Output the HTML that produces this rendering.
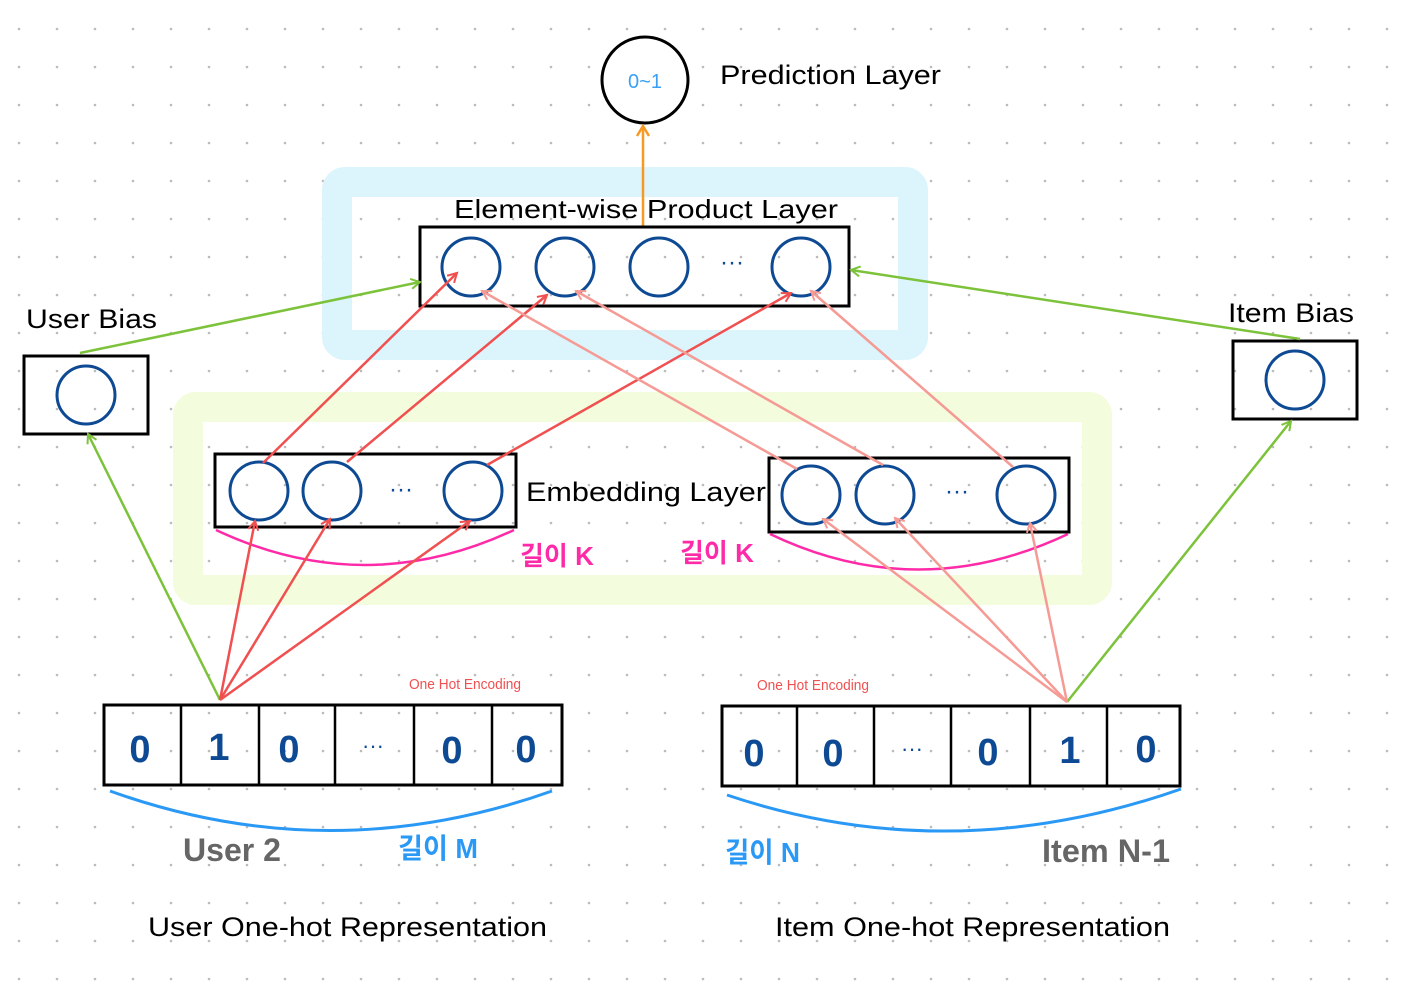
<!DOCTYPE html>
<html><head><meta charset="utf-8"><style>
html,body{margin:0;padding:0;background:#fff;}
svg{display:block;}
text{font-family:"Liberation Sans","Noto Sans CJK KR",sans-serif;}
</style></head><body>
<svg width="1417" height="1000" viewBox="0 0 1417 1000" xmlns="http://www.w3.org/2000/svg">
<defs>
<pattern id="dots" x="0" y="10" width="38" height="38" patternUnits="userSpaceOnUse">
<circle cx="19" cy="19" r="1.3" fill="#bbb"/>
</pattern>
<marker id="arR" markerWidth="12" markerHeight="12" refX="10" refY="6" orient="auto" markerUnits="userSpaceOnUse">
<path d="M1,1 L10,6 L1,11" fill="none" stroke="#f05050" stroke-width="2"/>
</marker>
<marker id="arP" markerWidth="12" markerHeight="12" refX="10" refY="6" orient="auto" markerUnits="userSpaceOnUse">
<path d="M1,1 L10,6 L1,11" fill="none" stroke="#f59a94" stroke-width="2"/>
</marker>
<marker id="arG" markerWidth="12" markerHeight="12" refX="10" refY="6" orient="auto" markerUnits="userSpaceOnUse">
<path d="M1,1 L10,6 L1,11" fill="none" stroke="#7cc23a" stroke-width="2"/>
</marker>
<marker id="arO" markerWidth="14" markerHeight="14" refX="11" refY="7" orient="auto" markerUnits="userSpaceOnUse">
<path d="M1,1 L11,7 L1,13" fill="none" stroke="#f59a24" stroke-width="2.5"/>
</marker>
</defs>
<rect width="1417" height="1000" fill="url(#dots)"/>

<rect x="337" y="182" width="576" height="163" rx="8" fill="none" stroke="#dcf5fc" stroke-width="30"/>
<rect x="188" y="407" width="909" height="183" rx="8" fill="none" stroke="#f3fcdc" stroke-width="30"/>

<circle cx="645" cy="80" r="43" fill="#fff" stroke="#000" stroke-width="3"/>
<text x="645" y="88" font-size="20" fill="#3aa0f5" text-anchor="middle" font-family="Liberation Mono,monospace">0~1</text>
<text x="720" y="84" font-size="27" fill="#000" textLength="221" lengthAdjust="spacingAndGlyphs">Prediction Layer</text>
<line x1="643" y1="226" x2="643" y2="126" stroke="#f59a24" stroke-width="2.5" marker-end="url(#arO)"/>

<text x="454" y="218" font-size="26" fill="#000" textLength="384" lengthAdjust="spacingAndGlyphs">Element-wise Product Layer</text>
<rect x="420" y="227" width="429" height="79" fill="none" stroke="#000" stroke-width="3"/>
<g fill="none" stroke="#0e4a94" stroke-width="3">
<circle cx="471" cy="267" r="29"/><circle cx="565" cy="267" r="29"/><circle cx="659" cy="267" r="29"/><circle cx="801" cy="267" r="29"/>
</g>
<text x="732" y="270" font-size="24" fill="#0e4a94" text-anchor="middle">···</text>

<text x="26" y="328" font-size="27" fill="#000" textLength="131" lengthAdjust="spacingAndGlyphs">User Bias</text>
<rect x="24" y="356" width="124" height="78" fill="none" stroke="#000" stroke-width="3"/>
<circle cx="86" cy="395" r="29" fill="none" stroke="#0e4a94" stroke-width="3"/>
<text x="1228" y="322" font-size="27" fill="#000" textLength="126" lengthAdjust="spacingAndGlyphs">Item Bias</text>
<rect x="1233" y="341" width="124" height="78" fill="none" stroke="#000" stroke-width="3"/>
<circle cx="1295" cy="380" r="29" fill="none" stroke="#0e4a94" stroke-width="3"/>

<rect x="215" y="454" width="301" height="73" fill="none" stroke="#000" stroke-width="3"/>
<rect x="769" y="458" width="300" height="74" fill="none" stroke="#000" stroke-width="3"/>
<g fill="none" stroke="#0e4a94" stroke-width="3">
<circle cx="259" cy="491" r="29"/><circle cx="332" cy="491" r="29"/><circle cx="473" cy="491" r="29"/>
<circle cx="811" cy="495" r="29"/><circle cx="885" cy="495" r="29"/><circle cx="1026" cy="495" r="29"/>
</g>
<text x="401" y="497" font-size="24" fill="#0e4a94" text-anchor="middle">···</text>
<text x="957" y="499" font-size="24" fill="#0e4a94" text-anchor="middle">···</text>
<text x="526" y="501" font-size="27" fill="#000" textLength="240" lengthAdjust="spacingAndGlyphs">Embedding Layer</text>
<path d="M216,530 Q365,600 514,530" fill="none" stroke="#ff2aa8" stroke-width="2.5"/>
<path d="M770,534 Q918,605 1068,534" fill="none" stroke="#ff2aa8" stroke-width="2.5"/>
<text x="520" y="565" font-size="26" font-weight="bold" fill="#ff2aa8">길이 K</text>
<text x="680" y="562" font-size="26" font-weight="bold" fill="#ff2aa8">길이 K</text>

<rect x="104" y="705" width="458" height="80" fill="none" stroke="#000" stroke-width="3"/>
<g stroke="#000" stroke-width="2.5">
<line x1="181" y1="705" x2="181" y2="785"/><line x1="259" y1="705" x2="259" y2="785"/><line x1="335" y1="705" x2="335" y2="785"/><line x1="414" y1="705" x2="414" y2="785"/><line x1="492" y1="705" x2="492" y2="785"/>
<line x1="797" y1="706" x2="797" y2="786"/><line x1="874" y1="706" x2="874" y2="786"/><line x1="951" y1="706" x2="951" y2="786"/><line x1="1030" y1="706" x2="1030" y2="786"/><line x1="1107" y1="706" x2="1107" y2="786"/>
</g>
<rect x="722" y="706" width="458" height="80" fill="none" stroke="#000" stroke-width="3"/>
<g font-size="38" font-weight="bold" fill="#0e4a94" text-anchor="middle" font-family="Liberation Mono,monospace">
<text x="140" y="762">0</text><text x="219" y="760">1</text><text x="289" y="762">0</text><text x="452" y="763">0</text><text x="526" y="762">0</text>
<text x="754" y="766">0</text><text x="833" y="766">0</text><text x="988" y="765">0</text><text x="1070" y="763">1</text><text x="1146" y="762">0</text>
</g>
<text x="373" y="753" font-size="22" fill="#0e4a94" text-anchor="middle">···</text>
<text x="912" y="756" font-size="22" fill="#0e4a94" text-anchor="middle">···</text>
<text x="409" y="689" font-size="15" fill="#f05050" textLength="112" lengthAdjust="spacingAndGlyphs">One Hot Encoding</text>
<text x="757" y="690" font-size="15" fill="#f05050" textLength="112" lengthAdjust="spacingAndGlyphs">One Hot Encoding</text>
<path d="M110,791 Q330,870 552,791" fill="none" stroke="#2a98f5" stroke-width="3"/>
<path d="M727,795 Q950,870 1181,789" fill="none" stroke="#2a98f5" stroke-width="3"/>
<text x="183" y="861" font-size="32" font-weight="bold" fill="#666" textLength="98" lengthAdjust="spacingAndGlyphs">User 2</text>
<text x="398" y="858" font-size="28" font-weight="bold" fill="#2a98f5" textLength="80" lengthAdjust="spacingAndGlyphs">길이 M</text>
<text x="725" y="862" font-size="28" font-weight="bold" fill="#2a98f5" textLength="75" lengthAdjust="spacingAndGlyphs">길이 N</text>
<text x="1042" y="862" font-size="32" font-weight="bold" fill="#666" textLength="128" lengthAdjust="spacingAndGlyphs">Item N-1</text>
<text x="148" y="936" font-size="27" fill="#000" textLength="399" lengthAdjust="spacingAndGlyphs">User One-hot Representation</text>
<text x="775" y="936" font-size="27" fill="#000" textLength="395" lengthAdjust="spacingAndGlyphs">Item One-hot Representation</text>

<g stroke-width="2.5" fill="none">
<line x1="80" y1="353" x2="420" y2="282" stroke="#7cc23a" marker-end="url(#arG)"/>
<line x1="1300" y1="339" x2="851" y2="270" stroke="#7cc23a" marker-end="url(#arG)"/>
<line x1="220" y1="700" x2="88" y2="434" stroke="#7cc23a" marker-end="url(#arG)"/>
<line x1="1067" y1="702" x2="1291" y2="421" stroke="#7cc23a" marker-end="url(#arG)"/>

<line x1="220" y1="700" x2="255" y2="521" stroke="#f05050" marker-end="url(#arR)"/>
<line x1="220" y1="700" x2="330" y2="519" stroke="#f05050" marker-end="url(#arR)"/>
<line x1="220" y1="700" x2="470" y2="521" stroke="#f05050" marker-end="url(#arR)"/>
<line x1="263" y1="463" x2="457" y2="273" stroke="#f05050" marker-end="url(#arR)"/>
<line x1="347" y1="462" x2="547" y2="295" stroke="#f05050" marker-end="url(#arR)"/>
<line x1="487" y1="465" x2="791" y2="293" stroke="#f05050" marker-end="url(#arR)"/>

<line x1="1067" y1="702" x2="823" y2="519" stroke="#f59a94" marker-end="url(#arP)"/>
<line x1="1067" y1="702" x2="895" y2="518" stroke="#f59a94" marker-end="url(#arP)"/>
<line x1="1067" y1="702" x2="1030" y2="523" stroke="#f59a94" marker-end="url(#arP)"/>
<line x1="797" y1="469" x2="482" y2="291" stroke="#f59a94" marker-end="url(#arP)"/>
<line x1="883" y1="465" x2="576" y2="291" stroke="#f59a94" marker-end="url(#arP)"/>
<line x1="1013" y1="467" x2="811" y2="291" stroke="#f59a94" marker-end="url(#arP)"/>
</g>
</svg>
</body></html>
